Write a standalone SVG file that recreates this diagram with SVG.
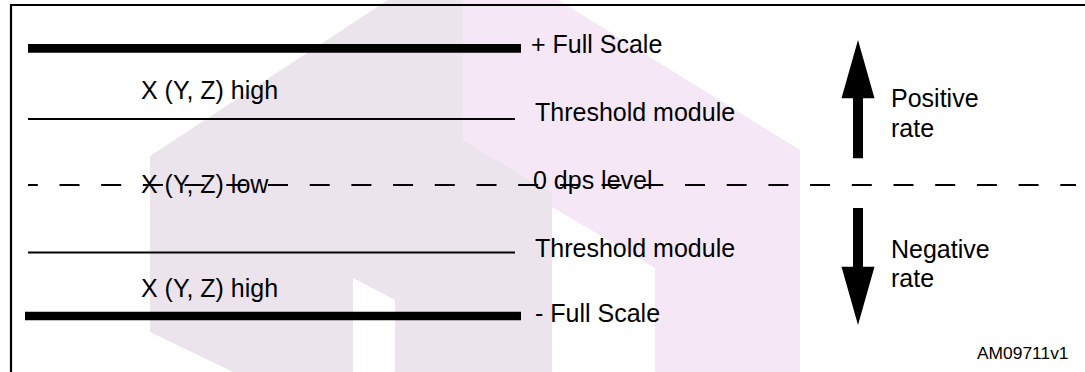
<svg xmlns="http://www.w3.org/2000/svg" width="1085" height="372" viewBox="0 0 1085 372">
  <style>
    .lbl { font-family: "Liberation Sans", Arial, Helvetica, sans-serif; font-size: 25px; fill: #000; }
    .small { font-size: 17.4px; }
    .thick { stroke: #000; stroke-width: 8.7; fill: none; }
    .thin { stroke: #000; stroke-width: 2; fill: none; }
    .dash { stroke: #000; stroke-width: 2; fill: none; stroke-dasharray: 20 21.7; stroke-dashoffset: 10.2; }
    .frame { stroke: #000; stroke-width: 2.2; fill: none; }
    .wmA { fill: #ece4ec; }
    .wmB { fill: #f5e7f5; }
    .arrow { fill: #000; }
  </style>
  <rect width="1085" height="372" fill="#fff"/>
  <g id="watermark">
    <polygon class="wmA" points="150,156 388,0 463,0 463,140 552,193 552,372 395,372 395,300 353,278 353,372 233,372 150,332"/>
    <polygon class="wmB" points="463,0 558,0 800,150 800,372 655,372 655,268 552,207 552,193 463,140"/>
  </g>
  <g id="frame">
    <polyline class="frame" points="11,372 11,5 1085,5"/>
  </g>
  <g id="plus-full-scale">
    <line class="thick" x1="28" y1="48.3" x2="521" y2="48.3"/>
    <text class="lbl" x="531" y="53">+ Full Scale</text>
  </g>
  <g id="upper-threshold">
    <text class="lbl" x="141" y="99">X (Y, Z) high</text>
    <line class="thin" x1="28" y1="119" x2="515" y2="119"/>
    <text class="lbl" x="535" y="121">Threshold module</text>
  </g>
  <g id="zero-level">
    <text class="lbl" x="141" y="193">X (Y, Z) low</text>
    <text class="lbl" x="533" y="189">0 dps level</text>
    <line class="dash" x1="28" y1="185" x2="1076" y2="185"/>
  </g>
  <g id="lower-threshold">
    <line class="thin" x1="28" y1="252.5" x2="515" y2="252.5"/>
    <text class="lbl" x="535" y="257">Threshold module</text>
    <text class="lbl" x="141" y="297">X (Y, Z) high</text>
  </g>
  <g id="minus-full-scale">
    <line class="thick" x1="25" y1="316" x2="521" y2="316"/>
    <text class="lbl" x="535" y="322">- Full Scale</text>
  </g>
  <g id="positive-rate">
    <text class="lbl" x="891" y="107">Positive</text>
    <text class="lbl" x="891" y="137">rate</text>
  </g>
  <g id="negative-rate">
    <text class="lbl" x="891" y="258">Negative</text>
    <text class="lbl" x="891" y="287">rate</text>
  </g>
  <g id="connectors">
    <path class="arrow" d="M853,158.3 L863,158.3 L863,98.3 L874.5,98.3 L858,40 L841.5,98.3 L853,98.3 Z"/>
    <path class="arrow" d="M853,208 L863,208 L863,266.7 L874.5,266.7 L858,325 L841.5,266.7 L853,266.7 Z"/>
  </g>
  <g id="figure-id">
    <text class="lbl small" x="977" y="359">AM09711v1</text>
  </g>
</svg>
